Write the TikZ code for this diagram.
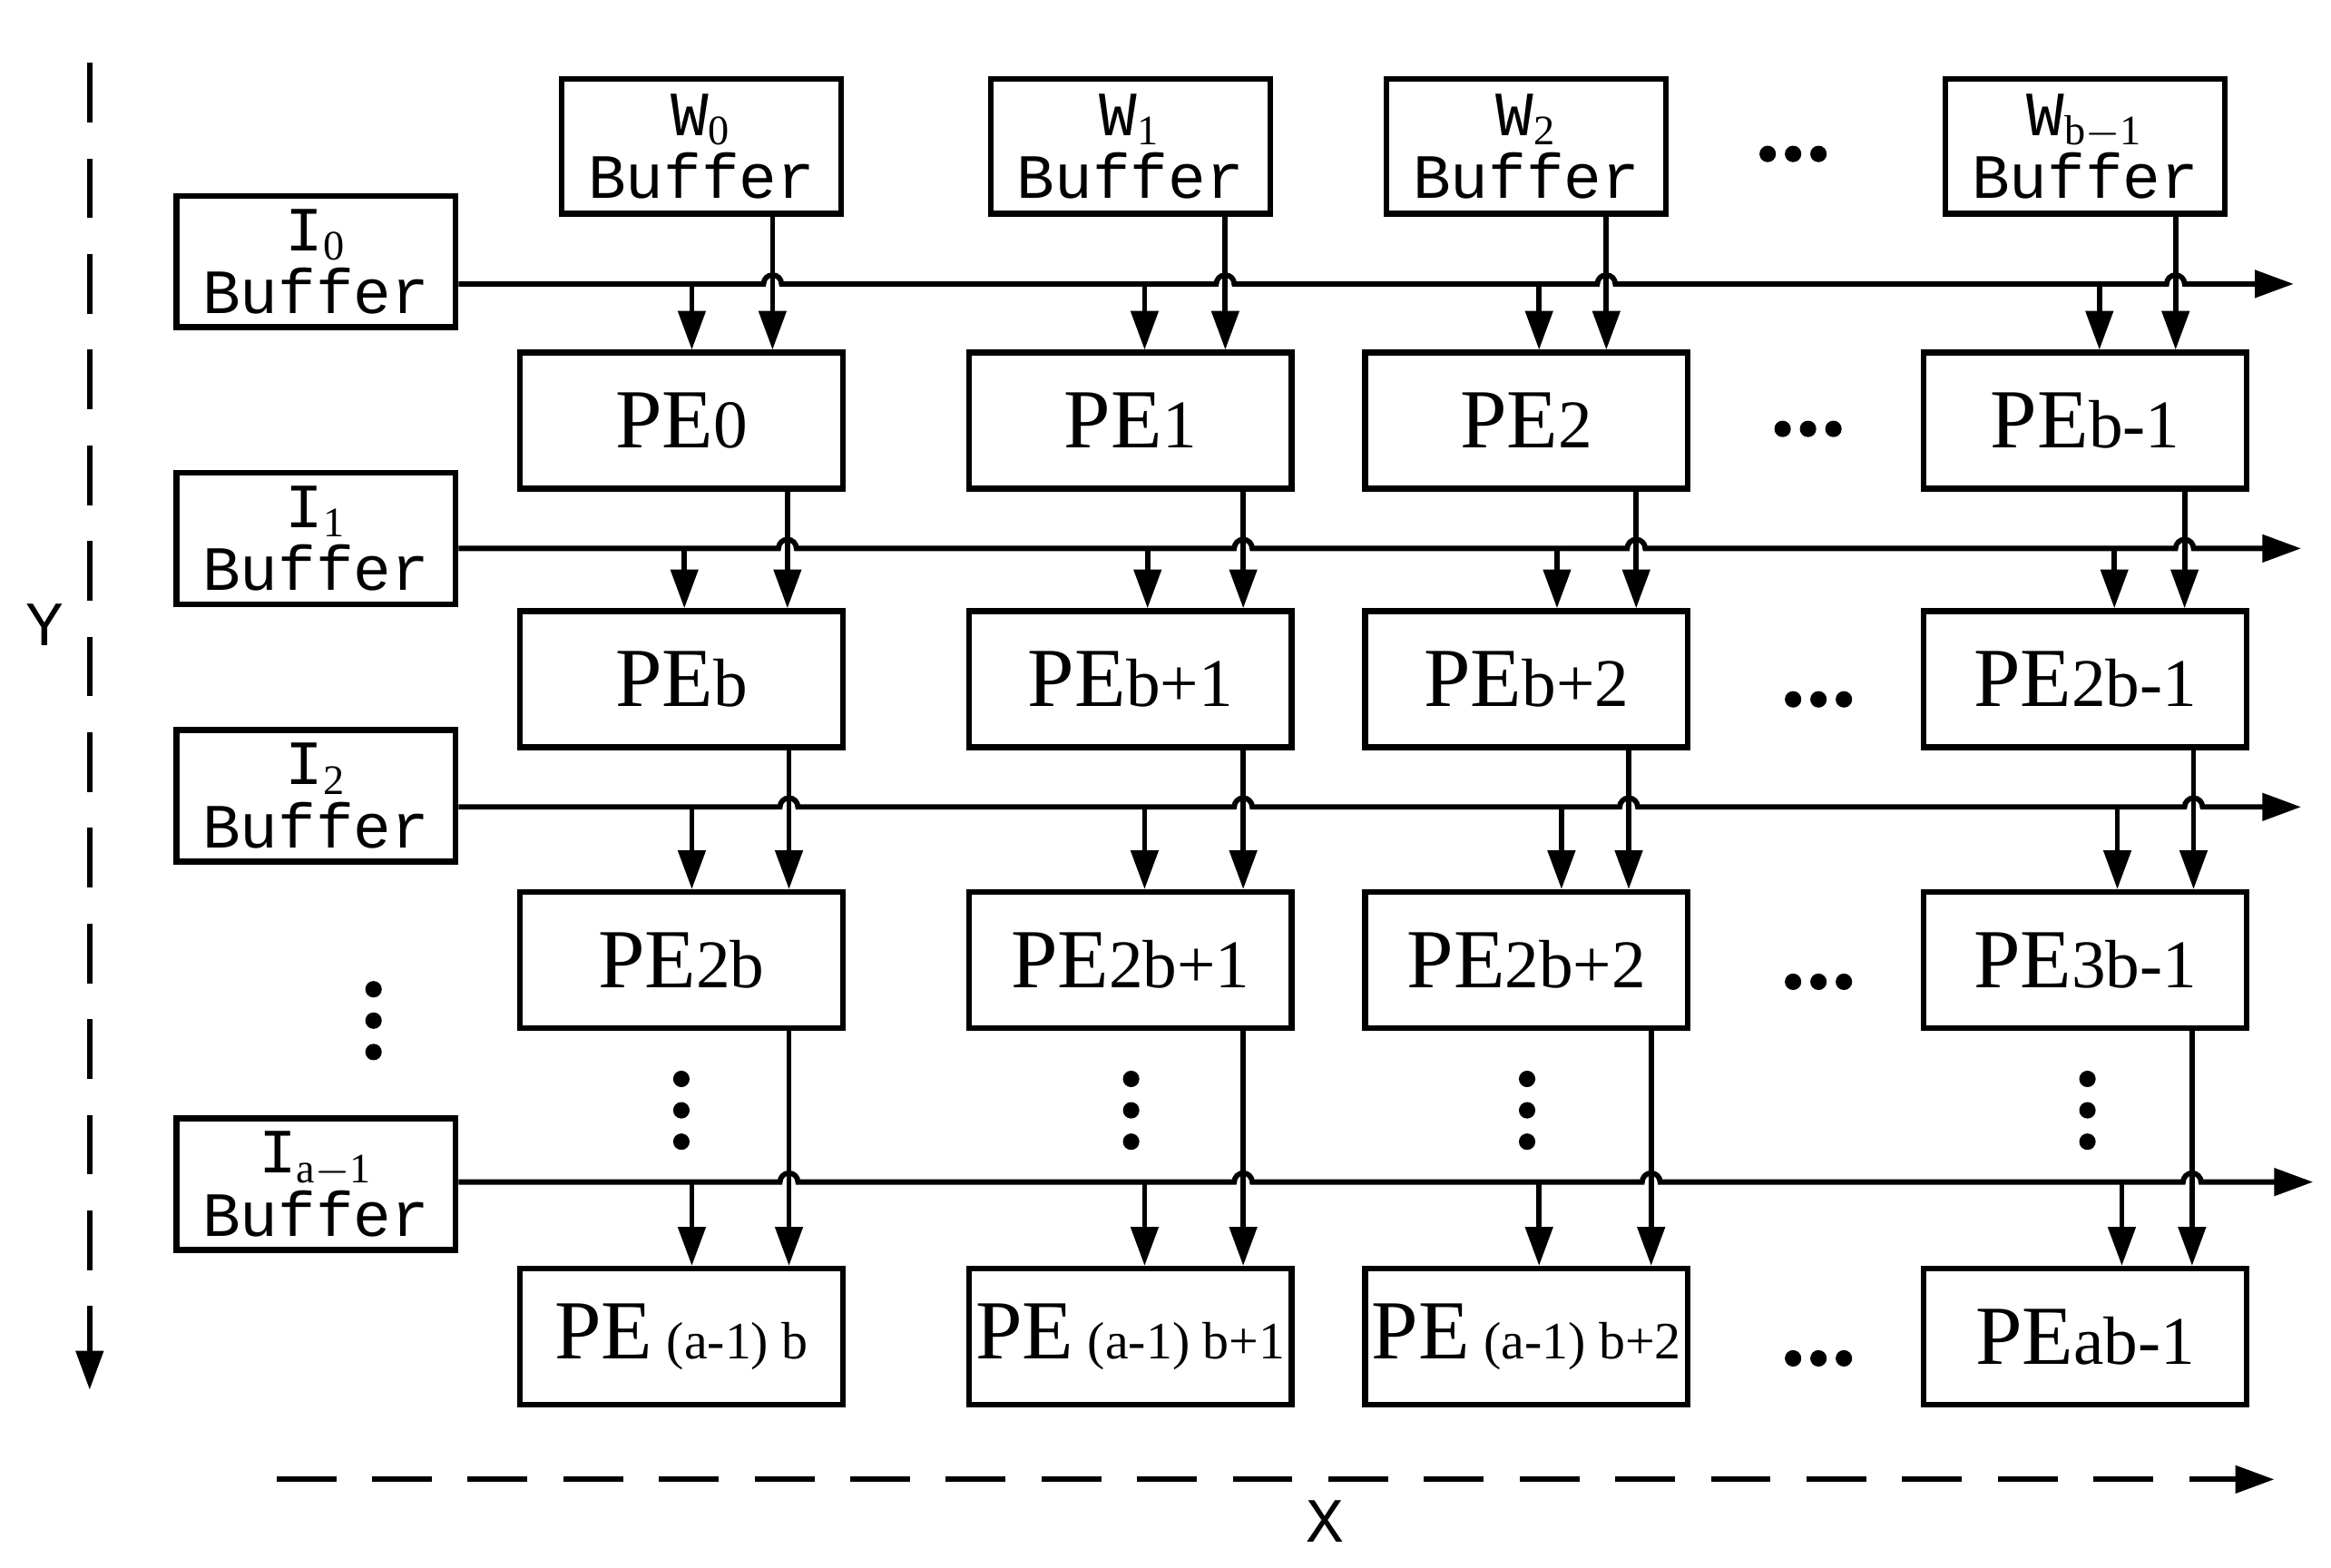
\documentclass[tikz,border=0pt]{standalone}
\usepackage{fontspec}
\setmainfont{Liberation Serif}
\newfontfamily\bufffont{Liberation Mono}
\usetikzlibrary{arrows.meta}
\begin{document}
\begin{tikzpicture}[x=0.1mm,y=-0.1mm,
  box/.style={draw,line width=1.1pt,minimum width=18.7mm,minimum height=9mm,inner sep=0pt,align=center},
  pe/.style={draw,line width=1.1pt,minimum width=21.6mm,minimum height=9.1mm,inner sep=0pt,font=\fontsize{16}{18}\selectfont},
  ln/.style={line width=1pt},
  arr/.style={ln,-{Triangle[length=2.6mm,width=1.8mm]}},
  dot/.style={circle,fill,inner sep=0pt,minimum size=1.1mm}]
\useasboundingbox (0,0) rectangle (1560,1049);
% W buffers
\foreach \n/\x/\t in {w0/469.5/{0},w1/756.5/{1},w2/1021.5/{2},w3/1395.5/{b-1}}
  \node[box,font=\bufffont\fontsize{12}{13}\selectfont] (\n) at (\x,98) {W$_{\mathrm{\t}}$\\[-1pt]Buffer};
% I buffers
\foreach \n/\y/\t in {i0/175/{0},i1/360.5/{1},i2/532.5/{2},i3/792.5/{a-1}}
  \node[box,font=\bufffont\fontsize{12}{13}\selectfont,minimum height=8.8mm] (\n) at (211.5,\y) {I$_{\mathrm{\t}}$\\[-1pt]Buffer};
% PEs
\def\pa{\fontsize{13}{14}\selectfont}
\def\pb{\fontsize{10}{12}\selectfont}
\node[pe] (p00) at (456,281.5) {PE{\pa 0}};
\node[pe] (p01) at (756.5,281.5) {PE{\pa 1}};
\node[pe] (p02) at (1021.5,281.5) {PE{\pa 2}};
\node[pe] (p03) at (1395.5,281.5) {PE{\pa b-1}};
\node[pe] (p10) at (456,454.5) {PE{\pa b}};
\node[pe] (p11) at (756.5,454.5) {PE{\pa b+1}};
\node[pe] (p12) at (1021.5,454.5) {PE{\pa b+2}};
\node[pe] (p13) at (1395.5,454.5) {PE{\pa 2b-1}};
\node[pe] (p20) at (456,642.5) {PE{\pa 2b}};
\node[pe] (p21) at (756.5,642.5) {PE{\pa 2b+1}};
\node[pe] (p22) at (1021.5,642.5) {PE{\pa 2b+2}};
\node[pe] (p23) at (1395.5,642.5) {PE{\pa 3b-1}};
\node[pe] (p30) at (456,894.5) {PE\,{\pb (a-1) b}};
\node[pe] (p31) at (756.5,894.5) {PE\,{\pb (a-1) b+1}};
\node[pe] (p32) at (1021.5,894.5) {PE\,{\pb (a-1) b+2}};
\node[pe] (p33) at (1395.5,894.5) {PE{\pa ab-1}};
% horizontal lines with hops
\def\hline#1#2#3#4#5#6#7{%
 \coordinate (e#1) at (#7,#2);
 \draw[arr] (#1.east |- {(0,#2)}) -- (#3-6,#2) arc(180:360:6) -- (#4-6,#2) arc(180:360:6)
   -- (#5-6,#2) arc(180:360:6) -- (#6-6,#2) arc(180:360:6) -- (e#1);}
\hline{i0}{190}{517}{820}{1075}{1456}{1535}
\hline{i1}{367}{527}{832}{1095}{1462}{1540}
\hline{i2}{540}{528}{832}{1090}{1468}{1540}
\hline{i3}{791}{528}{832}{1105}{1467}{1548}
% row 0 arrows
\foreach \xl/\xr/\w/\p in {463/517/w0/p00,766/820/w1/p01,1030/1075/w2/p02,1405/1456/w3/p03}{
  \draw[arr] (\xl,190) -- ({(\xl,0)} |- \p.north);
  \draw[arr] ({(\xr,0)} |- \w.south) -- ({(\xr,0)} |- \p.north);}
\foreach \xl/\xr/\a/\p/\y in {458/527/p00/p10/367,768/832/p01/p11/367,1042/1095/p02/p12/367,1415/1462/p03/p13/367,
  463/528/p10/p20/540,766/832/p11/p21/540,1045/1090/p12/p22/540,1417/1468/p13/p23/540,
  463/528/p20/p30/791,766/832/p21/p31/791,1030/1105/p22/p32/791,1420/1467/p23/p33/791}{
  \draw[arr] (\xl,\y) -- ({(\xl,0)} |- \p.north);
  \draw[arr] ({(\xr,0)} |- \a.south) -- ({(\xr,0)} |- \p.north);}
% dots
\foreach \x/\y in {1200/103,1210/287,1217/468,1217/657,1217/909}
  \foreach \d in {-17,0,17} \node[dot] at (\x+\d,\y) {};
\foreach \x/\y in {250/683,456/743,757/743,1022/743,1397/743}
  \foreach \d in {-21,0,21} \node[dot] at (\x,\y+\d) {};
% axes
\coordinate (ya) at (60,42); \coordinate (yb) at (60,930);
\coordinate (xa) at (185,990); \coordinate (xb) at (1522,990);
\draw[arr,dash pattern=on 4mm off 2.4mm] (ya) -- (yb);
\draw[arr,dash pattern=on 4mm off 2.4mm] (xa) -- (xb);
\node[font=\bufffont\fontsize{12}{13}\selectfont] (ylab) at (30,418) {Y};
\node[font=\bufffont\fontsize{12}{13}\selectfont] (xlab) at (887,1018) {X};
\end{tikzpicture}
\end{document}
